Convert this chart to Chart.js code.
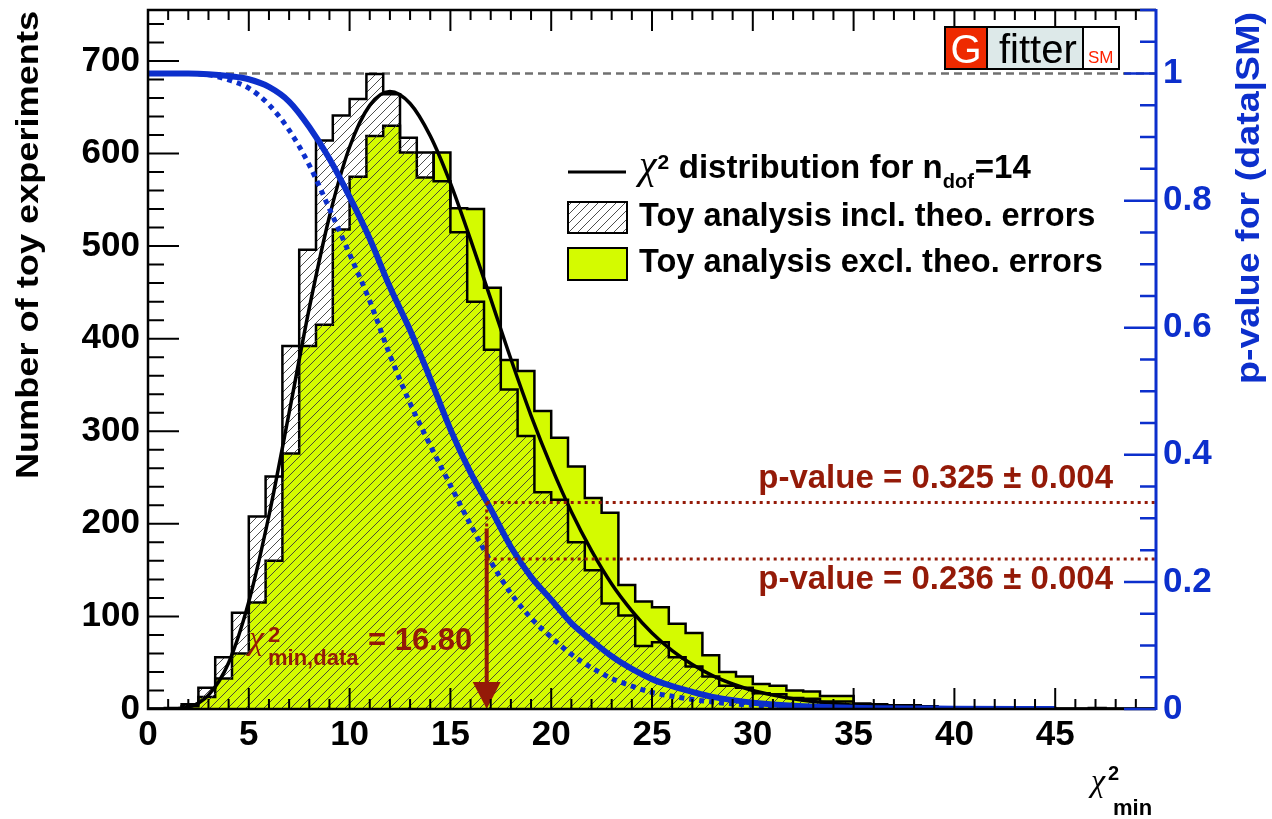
<!DOCTYPE html>
<html>
<head>
<meta charset="utf-8">
<title>Toy experiments chi2 min</title>
<script src="https://cdn.jsdelivr.net/npm/chart.js@4.4.1/dist/chart.umd.min.js"></script>
<style>
  html, body { margin: 0; padding: 0; background: #fff; }
  canvas { display: block; }
</style>
</head>
<body>
<canvas id="chi2-chart" width="1272" height="819"></canvas>
<script>
// histograms: 60 bins between 0 and 50
const xMin = 0, xMax = 50, nBins = 60;
const toysInclTheo = [0, 1, 5, 23, 56, 104, 208, 251, 392, 496,
  614, 641, 659, 686, 664, 617, 601, 570, 515, 440,
  388, 345, 295, 234, 226, 180, 150, 114, 101, 68,
  72, 56, 46, 35, 25, 23, 17, 16, 12, 11,
  8, 8, 6, 5, 4, 4, 3, 2, 2, 1,
  1, 1, 0, 1, 0, 0, 1, 0, 0, 0];
const toysExclTheo = [0, 0, 3, 13, 33, 60, 115, 160, 276, 392,
  415, 518, 575, 619, 630, 601, 574, 601, 541, 540,
  455, 377, 365, 322, 293, 262, 228, 212, 134, 116,
  110, 92, 82, 58, 40, 35, 27, 25, 20, 19,
  14, 14, 5, 4, 4, 3, 2, 2, 1, 1,
  1, 0, 1, 0, 0, 0, 0, 0, 0, 0];

// chi2 distribution for ndof=14
const chi2X = [0, 1, 2, 3, 4, 5, 6, 7, 8, 9, 10, 11, 12, 13, 14, 15, 16, 17, 18, 19, 20,
  21, 22, 23, 24, 25, 26, 27, 28, 29, 30, 31, 32, 33, 34, 35, 36, 38, 40, 45, 50];
const chi2Y = [0, 0, 2, 15, 50, 116, 209, 320, 433, 532, 607, 652, 667, 654, 619, 568, 507, 443, 378, 317, 262,
  213, 171, 135, 106, 82, 63, 48, 36, 27, 20, 15, 11, 8, 6, 4, 3, 1.5, 0.8, 0.1, 0];

// p-value curves (right axis)
const pvalX = [0, 1, 2, 3, 4, 5, 6, 7, 8, 9, 10, 11, 12, 13, 14, 15, 16, 17, 18, 19, 20,
  21, 22, 23, 24, 25, 26, 27, 28, 29, 30, 32, 35, 40, 45];
const pValueSolid = [1, 1, 1, 0.999, 0.996, 0.991, 0.979, 0.956, 0.916, 0.866, 0.806, 0.74, 0.664, 0.596, 0.52, 0.44, 0.372, 0.315, 0.255, 0.208, 0.172,
  0.135, 0.108, 0.083, 0.063, 0.047, 0.036, 0.027, 0.019, 0.014, 0.01, 0.005, 0.002, 0.0005, 0];
const pValueDotted = [1, 1, 1, 0.998, 0.99, 0.977, 0.951, 0.911, 0.856, 0.787, 0.716, 0.642, 0.557, 0.481, 0.415, 0.352, 0.29, 0.232, 0.182, 0.143, 0.113,
  0.086, 0.065, 0.048, 0.036, 0.026, 0.02, 0.015, 0.011, 0.008, 0.006, 0.003, 0.001, 0.0002, 0];

// tick labels
const xTickLabels = ['0', '5', '10', '15', '20', '25', '30', '35', '40', '45'];
const countTickLabels = ['0', '100', '200', '300', '400', '500', '600', '700'];
const pTickLabels = ['0', '0.2', '0.4', '0.6', '0.8', '1'];

// observed value and p-values
const chi2MinData = 16.80;
const arrowTop = 195;
const pValueLines = [0.325, 0.236];
const pValueLabels = ['p-value = 0.325 \u00b1 0.004', 'p-value = 0.236 \u00b1 0.004'];

const BLUE = '#0c2fcc';
const RED = '#941a08';
const YELLOW = '#d4fb00';
const FONT = '"Liberation Sans", Arial, Helvetica, sans-serif';

const canvas = document.getElementById('chi2-chart');

function makeHatch() {
  const c = document.createElement('canvas');
  c.width = 9; c.height = 9;
  const g = c.getContext('2d');
  g.strokeStyle = '#3a3a3a';
  g.lineWidth = 0.9;
  g.beginPath();
  g.moveTo(0, 9); g.lineTo(9, 0);
  g.moveTo(-2, 2); g.lineTo(2, -2);
  g.moveTo(7, 11); g.lineTo(11, 7);
  g.stroke();
  return canvas.getContext('2d').createPattern(c, 'repeat');
}
const hatch = makeHatch();

function histPoints(counts) {
  const w = (xMax - xMin) / nBins;
  const pts = counts.map((c, i) => ({ x: xMin + i * w, y: c }));
  pts.push({ x: xMax, y: counts[counts.length - 1] });
  return pts;
}
function xy(xs, ys) {
  return xs.map((x, i) => ({ x: x, y: ys[i] }));
}

function txt(ctx, s, x, y, font, color, align, sx) {
  ctx.save();
  ctx.font = font;
  ctx.fillStyle = color;
  ctx.textAlign = align || 'left';
  ctx.textBaseline = 'alphabetic';
  ctx.translate(x, y);
  ctx.scale(sx || 1, 1);
  ctx.fillText(s, 0, 0);
  const w = ctx.measureText(s).width * (sx || 1);
  ctx.restore();
  return w;
}

function noPad(s) {
  s.paddingTop = 0; s.paddingBottom = 0; s.paddingLeft = 0; s.paddingRight = 0;
}

const decorations = {
  id: 'decorations',
  beforeDatasetsDraw(chart) {
    const { ctx, chartArea: a, scales } = chart;
    const y1 = scales.p.getPixelForValue(1);
    ctx.save();
    ctx.strokeStyle = '#707070';
    ctx.lineWidth = 2.5;
    ctx.setLineDash([8, 5]);
    ctx.beginPath();
    ctx.moveTo(a.left, y1);
    ctx.lineTo(a.right, y1);
    ctx.stroke();
    ctx.restore();
  },
  afterDraw(chart) {
    const { ctx, chartArea: a, scales } = chart;
    const xs = scales.x, ys = scales.y, ps = scales.p;

    // p-value lines and arrow
    const xd = xs.getPixelForValue(chi2MinData);
    ctx.save();
    ctx.strokeStyle = RED;
    ctx.lineWidth = 3;
    ctx.setLineDash([3, 4]);
    pValueLines.forEach(v => {
      const py = ps.getPixelForValue(v);
      ctx.beginPath();
      ctx.moveTo(xd, py);
      ctx.lineTo(a.right, py);
      ctx.stroke();
    });
    const yTopArrow = ys.getPixelForValue(arrowTop);
    ctx.beginPath();
    ctx.moveTo(xd, ps.getPixelForValue(pValueLines[0]));
    ctx.lineTo(xd, yTopArrow);
    ctx.stroke();
    ctx.setLineDash([]);
    ctx.lineWidth = 4;
    const y0 = ys.getPixelForValue(0);
    ctx.beginPath();
    ctx.moveTo(xd, yTopArrow);
    ctx.lineTo(xd, y0 - 20);
    ctx.stroke();
    ctx.fillStyle = RED;
    ctx.beginPath();
    ctx.moveTo(xd - 14, y0 - 27);
    ctx.lineTo(xd + 14, y0 - 27);
    ctx.lineTo(xd, y0);
    ctx.closePath();
    ctx.fill();
    ctx.restore();

    // p-value labels
    txt(ctx, pValueLabels[0], 1113, ps.getPixelForValue(pValueLines[0]) - 14, 'bold 33px ' + FONT, RED, 'right');
    txt(ctx, pValueLabels[1], 1113, ps.getPixelForValue(pValueLines[1]) + 30, 'bold 33px ' + FONT, RED, 'right');

    // chi2 min,data label
    txt(ctx, '\u03c7', 249, 649, 'italic 34px "Liberation Serif", serif', RED);
    txt(ctx, '2', 268, 642, 'bold 22px ' + FONT, RED);
    txt(ctx, 'min,data', 268, 665, 'bold 22px ' + FONT, RED);
    txt(ctx, '= 16.80', 368, 650, 'bold 31px ' + FONT, RED);

    // frame
    ctx.save();
    ctx.lineWidth = 2.5;
    ctx.strokeStyle = '#000';
    ctx.beginPath();
    ctx.moveTo(a.right, a.top);
    ctx.lineTo(a.left, a.top);
    ctx.lineTo(a.left, a.bottom);
    ctx.lineTo(a.right, a.bottom);
    ctx.stroke();

    // ticks
    ctx.lineWidth = 2;
    ctx.beginPath();
    for (let v = 0; v <= 50; v++) {
      const px = xs.getPixelForValue(v);
      const len = v % 5 === 0 ? 21 : 10;
      ctx.moveTo(px, a.bottom); ctx.lineTo(px, a.bottom - len);
      ctx.moveTo(px, a.top); ctx.lineTo(px, a.top + len);
    }
    for (let v = 0; v <= 740; v += 20) {
      const py = ys.getPixelForValue(v);
      const len = v % 100 === 0 ? 31 : 16;
      ctx.moveTo(a.left, py); ctx.lineTo(a.left + len, py);
    }
    ctx.stroke();

    ctx.strokeStyle = BLUE;
    ctx.lineWidth = 3;
    ctx.beginPath();
    ctx.moveTo(a.right, a.top - 1);
    ctx.lineTo(a.right, a.bottom + 1);
    ctx.stroke();
    ctx.lineWidth = 2.5;
    ctx.beginPath();
    for (let i = 0; i <= 22; i++) {
      const py = ps.getPixelForValue(i * 0.05);
      const len = i % 4 === 0 ? 32 : 16;
      ctx.moveTo(a.right, py); ctx.lineTo(a.right - len, py);
    }
    ctx.stroke();
    ctx.restore();

    // axis titles
    ctx.save();
    ctx.translate(38, 245);
    ctx.rotate(-Math.PI / 2);
    txt(ctx, 'Number of toy experiments', 0, 0, 'bold 32px ' + FONT, '#000', 'center', 1.13);
    ctx.restore();
    ctx.save();
    ctx.translate(1259, 198);
    ctx.rotate(-Math.PI / 2);
    txt(ctx, 'p-value for (data|SM)', 0, 0, 'bold 33px ' + FONT, BLUE, 'center', 1.14);
    ctx.restore();
    txt(ctx, '\u03c7', 1091, 791, 'italic 32px "Liberation Serif", serif', '#000');
    txt(ctx, '2', 1108, 780, 'bold 20px ' + FONT, '#000');
    txt(ctx, 'min', 1113, 815, 'bold 22px ' + FONT, '#000');

    // legend
    ctx.save();
    ctx.strokeStyle = '#000';
    ctx.lineWidth = 3;
    ctx.beginPath();
    ctx.moveTo(568, 172); ctx.lineTo(626, 172);
    ctx.stroke();
    ctx.lineWidth = 2;
    ctx.fillStyle = '#fff';
    ctx.fillRect(568, 202, 59, 31);
    ctx.fillStyle = hatch;
    ctx.fillRect(568, 202, 59, 31);
    ctx.strokeRect(568, 202, 59, 31);
    ctx.fillStyle = YELLOW;
    ctx.fillRect(568, 248, 59, 32);
    ctx.strokeRect(568, 248, 59, 32);
    ctx.restore();
    let lx = 639;
    lx += txt(ctx, '\u03c7', lx, 178, 'italic 40px "Liberation Serif", serif', '#000');
    txt(ctx, '2', lx + 1, 169, 'bold 21px ' + FONT, '#000');
    lx += 13;
    lx += txt(ctx, ' distribution for n', lx, 178, 'bold 33px ' + FONT, '#000');
    lx += txt(ctx, 'dof', lx, 188, 'bold 20px ' + FONT, '#000');
    txt(ctx, '=14', lx + 1, 178, 'bold 33px ' + FONT, '#000');
    txt(ctx, 'Toy analysis incl. theo. errors', 639, 226, 'bold 33px ' + FONT, '#000', 'left', 0.985);
    txt(ctx, 'Toy analysis excl. theo. errors', 639, 272, 'bold 33px ' + FONT, '#000', 'left', 0.985);

    // Gfitter logo
    ctx.save();
    ctx.fillStyle = '#ee2a00';
    ctx.fillRect(945, 27, 42, 42);
    ctx.fillStyle = '#dde9e9';
    ctx.fillRect(987, 27, 96, 42);
    ctx.fillStyle = '#fff';
    ctx.fillRect(1083, 27, 36, 42);
    ctx.strokeStyle = '#000';
    ctx.lineWidth = 2;
    ctx.strokeRect(945, 27, 174, 42);
    ctx.beginPath();
    ctx.moveTo(987, 27); ctx.lineTo(987, 69);
    ctx.moveTo(1083, 27); ctx.lineTo(1083, 69);
    ctx.stroke();
    ctx.restore();
    txt(ctx, 'G', 966, 63, '40px ' + FONT, '#fff', 'center');
    txt(ctx, 'fitter', 999, 63, '40px ' + FONT, '#000');
    txt(ctx, 'SM', 1088, 63, '17px ' + FONT, '#ff2200');
  }
};

new Chart(canvas, {
  type: 'line',
  data: {
    datasets: [
      {
        label: 'p-value (solid)',
        data: xy(pvalX, pValueSolid),
        yAxisID: 'p',
        borderColor: BLUE,
        borderWidth: 6,
        pointRadius: 0,
        cubicInterpolationMode: 'monotone',
        fill: false,
        order: 1
      },
      {
        label: 'p-value (dotted)',
        data: xy(pvalX, pValueDotted),
        yAxisID: 'p',
        borderColor: BLUE,
        borderWidth: 5,
        borderDash: [5, 5],
        pointRadius: 0,
        cubicInterpolationMode: 'monotone',
        fill: false,
        order: 2
      },
      {
        label: 'chi2 distribution for ndof=14',
        data: xy(chi2X, chi2Y),
        yAxisID: 'y',
        borderColor: '#000',
        borderWidth: 3.5,
        pointRadius: 0,
        cubicInterpolationMode: 'monotone',
        fill: false,
        order: 3
      },
      {
        label: 'Toy analysis incl. theo. errors',
        data: histPoints(toysInclTheo),
        yAxisID: 'y',
        stepped: true,
        borderColor: '#000',
        borderWidth: 2.5,
        backgroundColor: hatch,
        fill: 'origin',
        pointRadius: 0,
        order: 4
      },
      {
        label: 'Toy analysis excl. theo. errors',
        data: histPoints(toysExclTheo),
        yAxisID: 'y',
        stepped: true,
        borderColor: '#000',
        borderWidth: 2.5,
        backgroundColor: YELLOW,
        fill: 'origin',
        pointRadius: 0,
        order: 5
      }
    ]
  },
  options: {
    responsive: false,
    animation: false,
    devicePixelRatio: 1,
    layout: { padding: { top: 10, right: 0, bottom: 0, left: 0 } },
    plugins: { legend: { display: false }, tooltip: { enabled: false } },
    scales: {
      x: {
        type: 'linear',
        position: 'bottom',
        min: xMin,
        max: xMax,
        grid: { display: false, drawTicks: false, tickLength: 0 },
        border: { display: false },
        ticks: {
          stepSize: 5,
          autoSkip: false,
          maxRotation: 0,
          padding: 5,
          color: '#000',
          font: { family: FONT, size: 35, weight: 'bold' },
          callback: (v) => xTickLabels.includes(String(v)) ? String(v) : ''
        },
        afterFit: (s) => { s.height = 110; noPad(s); }
      },
      y: {
        position: 'left',
        min: 0,
        max: 755,
        grid: { display: false, drawTicks: false, tickLength: 0 },
        border: { display: false },
        ticks: {
          stepSize: 100,
          includeBounds: false,
          padding: 8,
          color: '#000',
          font: { family: FONT, size: 35, weight: 'bold' },
          callback: (v, i) => countTickLabels[i] ?? ''
        },
        afterFit: (s) => { s.width = 148; noPad(s); }
      },
      p: {
        position: 'right',
        min: 0,
        max: 1.1,
        grid: { display: false, drawTicks: false, tickLength: 0 },
        border: { display: false },
        ticks: {
          stepSize: 0.2,
          includeBounds: false,
          padding: 7,
          color: BLUE,
          font: { family: FONT, size: 35, weight: 'bold' },
          callback: (v, i) => pTickLabels[i] ?? ''
        },
        afterFit: (s) => { s.width = 116; noPad(s); }
      }
    }
  },
  plugins: [decorations]
});
</script>
</body>
</html>
